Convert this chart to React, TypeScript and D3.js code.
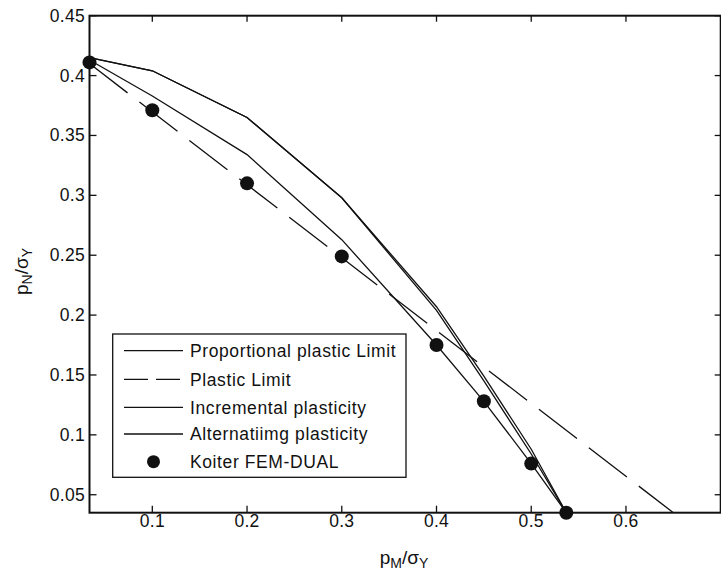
import React from "react";
import * as d3 from "d3";

// ---- data ----
const pM = [0.0337, 0.1, 0.2, 0.3, 0.4, 0.45, 0.5, 0.537];
const koiterN = [0.411, 0.371, 0.31, 0.249, 0.175, 0.128, 0.076, 0.035];
const proportionalN = [0.415, 0.404, 0.365, 0.298, 0.207, 0.149, 0.088, 0.035];
const incrementalN = [0.413, 0.383, 0.334, 0.263, 0.175, 0.128, 0.076, 0.035];
const alternatingN = [0.415, 0.404, 0.365, 0.298, 0.204, 0.145, 0.084, 0.035];
const plasticX = [0.0337, 0.65];
const plasticN = [0.41, 0.035];
const xTicks = [0.1, 0.2, 0.3, 0.4, 0.5, 0.6];
const yTicks = [0.05, 0.1, 0.15, 0.2, 0.25, 0.3, 0.35, 0.4, 0.45];
const legendLabels = [
  "Proportional plastic Limit",
  "Plastic Limit",
  "Incremental plasticity",
  "Alternatiimg plasticity",
  "Koiter FEM-DUAL",
];

const W = 721;
const H = 574;
const L = 89.5, R = 720.7, T = 15.7, B = 512.7;
const FONT = "'Liberation Sans', Arial, Helvetica, sans-serif";
const FS = 17.5;

export default function App() {
  const x = d3.scaleLinear().domain([0.0337, 0.7]).range([L, R]);
  const y = d3.scaleLinear().domain([0.035, 0.45]).range([B, T]);
  const line = d3
    .line<[number, number]>()
    .x((d) => x(d[0]))
    .y((d) => y(d[1]));
  const fmt = (v: number) => String(+v.toFixed(2));

  const series = [
    { ys: proportionalN, xs: pM },
    { ys: incrementalN, xs: pM },
    { ys: alternatingN, xs: pM },
  ];

  const legX0 = 112.7, legY0 = 334, legW = 293.3, legH = 143.3;
  const rowY = [350.7, 379.3, 407.3, 434, 461.7];

  return (
    <svg
      width={W}
      height={H}
      style={{ position: "absolute", left: 0, top: 0, background: "#fff" }}
      fontFamily={FONT}
    >
      <rect x={0} y={0} width={W} height={H} fill="#fff" />
      <defs>
        <clipPath id="plot">
          <rect x={L} y={T} width={R - L} height={B - T} />
        </clipPath>
      </defs>
      <g clipPath="url(#plot)" fill="none" stroke="#111" strokeWidth={1.3}>
        {series.map((s, i) => (
          <path
            key={i}
            d={line(s.xs.map((v, j) => [v, s.ys[j]] as [number, number])) || ""}
          />
        ))}
        <path
          d={line(plasticX.map((v, j) => [v, plasticN[j]] as [number, number])) || ""}
          strokeDasharray="48,15"
        />
      </g>
      <g fill="#111">
        {pM.map((v, i) => (
          <circle key={i} cx={x(v)} cy={y(koiterN[i])} r={7} />
        ))}
      </g>
      {/* axes box */}
      <rect x={L} y={T} width={R - L} height={B - T} fill="none" stroke="#111" strokeWidth={2} />
      {/* ticks */}
      <g stroke="#111" strokeWidth={1.3}>
        {xTicks.map((t) => (
          <g key={t}>
            <line x1={x(t)} x2={x(t)} y1={B} y2={B - 7} />
            <line x1={x(t)} x2={x(t)} y1={T} y2={T + 6} />
          </g>
        ))}
        {yTicks.map((t) => (
          <g key={t}>
            <line x1={L} x2={L + 7} y1={y(t)} y2={y(t)} />
            <line x1={R} x2={R - 6} y1={y(t)} y2={y(t)} />
          </g>
        ))}
      </g>
      <g fontSize={FS} fill="#111" letterSpacing={0.3}>
        {xTicks.map((t) => (
          <text key={t} x={x(t)} y={527} textAnchor="middle">
            {fmt(t)}
          </text>
        ))}
        {yTicks.map((t) => (
          <text key={t} x={85} y={y(t) + 6} textAnchor="end">
            {fmt(t)}
          </text>
        ))}
      </g>
      {/* axis titles */}
      <text x={404} y={564} textAnchor="middle" fontSize={19} fill="#111">
        p
        <tspan fontSize={14} dy={4}>M</tspan>
        <tspan dy={-4}>/σ</tspan>
        <tspan fontSize={14} dy={4}>Y</tspan>
      </text>
      <text
        transform={`translate(28,271.5) rotate(-90)`}
        textAnchor="middle"
        fontSize={19}
        fill="#111"
      >
        p
        <tspan fontSize={14} dy={4}>N</tspan>
        <tspan dy={-4}>/σ</tspan>
        <tspan fontSize={14} dy={4}>Y</tspan>
      </text>
      {/* legend */}
      <rect x={legX0} y={legY0} width={legW} height={legH} fill="#fff" stroke="#111" strokeWidth={1.3} />
      <g stroke="#111" strokeWidth={1.3}>
        <line x1={124} x2={183} y1={rowY[0]} y2={rowY[0]} />
        <line x1={124} x2={183} y1={rowY[1]} y2={rowY[1]} strokeDasharray="24,8" />
        <line x1={124} x2={183} y1={rowY[2]} y2={rowY[2]} />
        <line x1={124} x2={183} y1={rowY[3]} y2={rowY[3]} />
      </g>
      <circle cx={153.5} cy={rowY[4]} r={6.5} fill="#111" />
      <g fontSize={FS} fill="#111" letterSpacing={0.6}>
        {legendLabels.map((s, i) => (
          <text key={s} x={190} y={rowY[i] + 6.2}>
            {s}
          </text>
        ))}
      </g>
    </svg>
  );
}
